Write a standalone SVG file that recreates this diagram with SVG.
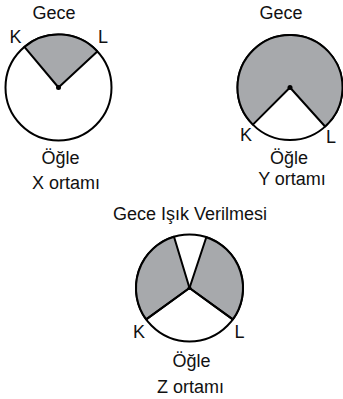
<svg xmlns="http://www.w3.org/2000/svg" width="343" height="399" viewBox="0 0 343 399">
<style>
text{font-family:"Liberation Sans",Arial,sans-serif;font-size:18px;fill:#111;text-anchor:middle}
.c{fill:#fff;stroke:#000;stroke-width:2}
.s{fill:#a7a9ac;stroke:#000;stroke-width:2;stroke-linejoin:round}
.d{fill:#000}
</style>
<rect width="343" height="399" fill="#fff"/>
<g id="X">
<circle class="c" cx="58.5" cy="87.5" r="53"/>
<path class="s" d="M58.5 87.5 L24.4 46.9 A53 53 0 0 1 97.3 51.4 Z"/>
<circle class="d" cx="58.5" cy="87.5" r="2.5"/>
<text x="54" y="19">Gece</text>
<text x="15.5" y="43">K</text>
<text x="103" y="43">L</text>
<text x="60.5" y="163.5">Öğle</text>
<text x="66" y="189">X ortamı</text>
</g>
<g id="Y">
<circle class="c" cx="290" cy="87.5" r="52.5"/>
<path class="s" d="M290 87.5 L252.9 124.6 A52.5 52.5 0 1 1 325.1 126.5 Z"/>
<circle class="d" cx="290" cy="87.5" r="2.5"/>
<text x="281" y="19">Gece</text>
<text x="246" y="141">K</text>
<text x="331" y="143.3">L</text>
<text x="289" y="163.5">Öğle</text>
<text x="292" y="185">Y ortamı</text>
</g>
<g id="Z">
<circle class="c" cx="189.5" cy="288" r="53.5"/>
<path class="s" d="M189.5 288 L174 236.8 A53.5 53.5 0 0 0 146.2 319.4 Z"/>
<path class="s" d="M189.5 288 L206.3 237.2 A53.5 53.5 0 0 1 232.8 319.4 Z"/>
<path d="M189.5 288 L146.2 319.4 M189.5 288 L232.8 319.4" stroke="#000" stroke-width="2" fill="none"/>
<circle class="d" cx="189.5" cy="288" r="2"/>
<text x="190" y="220">Gece Işık Verilmesi</text>
<text x="139" y="337.5">K</text>
<text x="239.5" y="337.5">L</text>
<text x="191.5" y="366.7">Öğle</text>
<text x="190.5" y="393">Z ortamı</text>
</g>
</svg>
